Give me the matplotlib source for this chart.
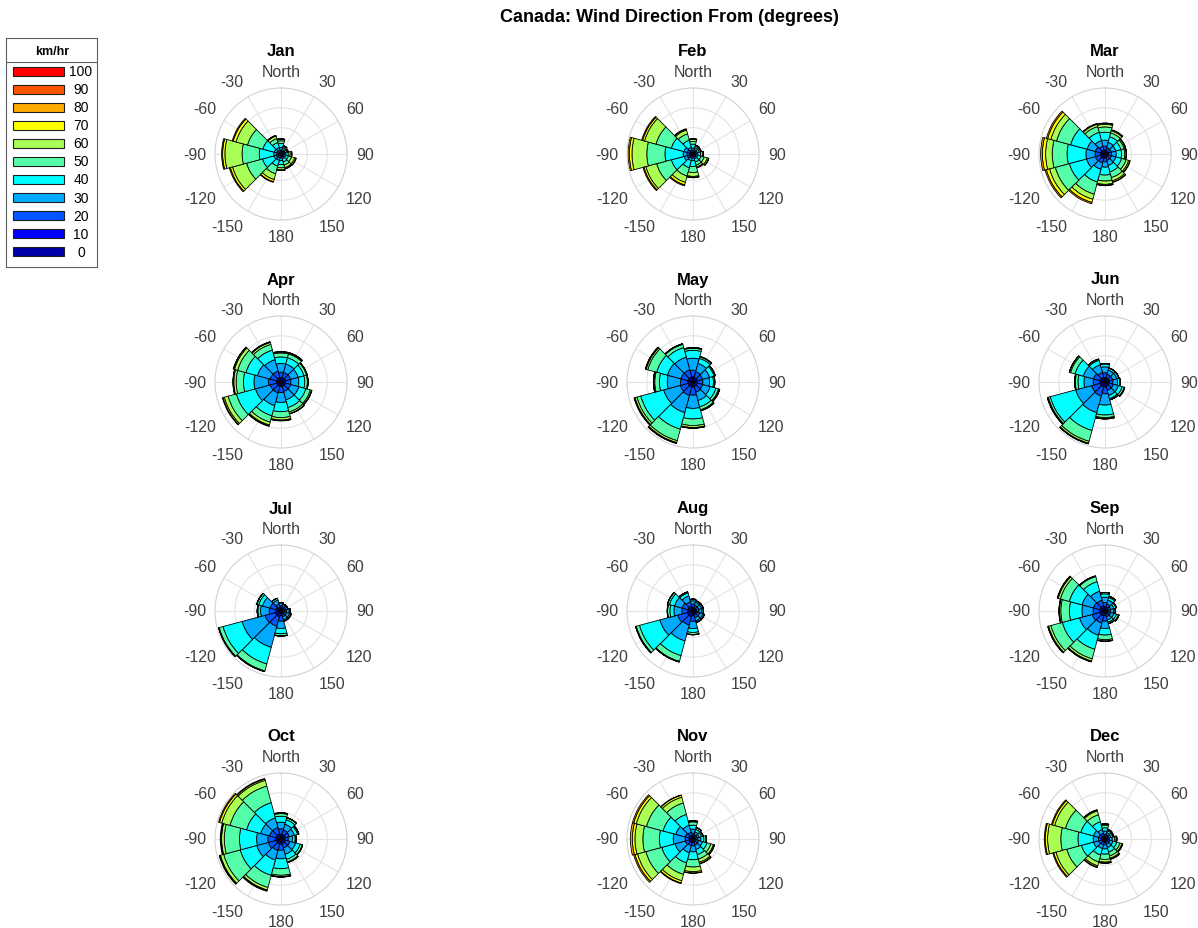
import numpy as np
import matplotlib.pyplot as plt

plt.rcParams['font.family'] = ['Liberation Sans', 'DejaVu Sans']

# wind direction sectors (degrees clockwise from north) and speed classes
directions = [0, 30, 60, 90, 120, 150, 180, 210, 240, 270, 300, 330]
dir_labels = ['North', '30', '60', '90', '120', '150', '180',
              '-150', '-120', '-90', '-60', '-30']
speed_bins = [0, 10, 20, 30, 40, 50, 60, 70, 80, 90, 100]
bin_colors = ['#0000aa', '#0000ff', '#0055ff', '#00aaff', '#00ffff', '#55ffaa',
              '#aaff55', '#ffff00', '#ffaa00', '#ff5500', '#ff0000']
months = ['Jan', 'Feb', 'Mar', 'Apr', 'May', 'Jun',
          'Jul', 'Aug', 'Sep', 'Oct', 'Nov', 'Dec']

# frequency (%) per direction (rows) and speed class 0..80 km/hr (columns)
jan = [[0.1, 0.2, 0.3, 0.4, 0.6, 0.4, 0.2, 0.1, 0.0],
       [0.1, 0.15, 0.2, 0.25, 0.3, 0.2, 0.1, 0.0, 0.0],
       [0.1, 0.15, 0.2, 0.2, 0.25, 0.15, 0.1, 0.0, 0.0],
       [0.1, 0.15, 0.2, 0.3, 0.35, 0.3, 0.2, 0.05, 0.0],
       [0.1, 0.15, 0.2, 0.3, 0.4, 0.5, 0.5, 0.2, 0.05],
       [0.1, 0.15, 0.2, 0.3, 0.5, 0.5, 0.4, 0.15, 0.05],
       [0.1, 0.2, 0.3, 0.4, 0.6, 0.5, 0.3, 0.1, 0.0],
       [0.1, 0.2, 0.3, 0.4, 0.9, 1.2, 0.9, 0.35, 0.1],
       [0.15, 0.25, 0.3, 0.4, 1.8, 2.5, 2.2, 0.35, 0.15],
       [0.15, 0.25, 0.3, 0.4, 2.2, 2.6, 2.6, 0.35, 0.15],
       [0.15, 0.2, 0.3, 0.4, 1.8, 2.4, 1.8, 0.45, 0.15],
       [0.1, 0.2, 0.3, 0.4, 0.8, 0.6, 0.4, 0.1, 0.0]]
feb = [[0.1, 0.2, 0.25, 0.35, 0.6, 0.4, 0.3, 0.1, 0.0],
       [0.1, 0.15, 0.2, 0.25, 0.3, 0.25, 0.1, 0.05, 0.0],
       [0.1, 0.15, 0.2, 0.25, 0.3, 0.2, 0.1, 0.0, 0.0],
       [0.1, 0.15, 0.2, 0.3, 0.4, 0.3, 0.15, 0.0, 0.0],
       [0.1, 0.15, 0.2, 0.3, 0.5, 0.5, 0.5, 0.2, 0.05],
       [0.1, 0.15, 0.2, 0.3, 0.5, 0.5, 0.3, 0.1, 0.05],
       [0.1, 0.2, 0.3, 0.4, 0.9, 0.9, 0.6, 0.15, 0.05],
       [0.15, 0.2, 0.3, 0.4, 1.1, 1.3, 1.0, 0.4, 0.15],
       [0.2, 0.3, 0.4, 0.5, 2.0, 2.3, 1.7, 0.3, 0.15],
       [0.2, 0.3, 0.4, 0.6, 2.75, 2.75, 2.25, 0.4, 0.2],
       [0.2, 0.3, 0.4, 0.5, 2.0, 2.4, 1.8, 0.3, 0.15],
       [0.15, 0.2, 0.3, 0.4, 1.1, 1.0, 0.6, 0.15, 0.05]]
mar = [[0.25, 0.35, 0.6, 0.9, 1.2, 0.8, 0.4, 0.15, 0.05],
       [0.2, 0.3, 0.5, 0.8, 0.9, 0.6, 0.35, 0.1, 0.05],
       [0.2, 0.3, 0.5, 0.7, 0.8, 0.5, 0.2, 0.05, 0.0],
       [0.2, 0.3, 0.5, 0.7, 0.8, 0.5, 0.2, 0.05, 0.0],
       [0.2, 0.3, 0.5, 0.7, 0.9, 0.7, 0.4, 0.2, 0.05],
       [0.2, 0.3, 0.5, 0.8, 1.0, 0.9, 0.5, 0.2, 0.05],
       [0.25, 0.35, 0.6, 0.8, 1.2, 0.9, 0.5, 0.15, 0.05],
       [0.3, 0.4, 0.7, 1.0, 2.0, 1.9, 0.8, 0.5, 0.2],
       [0.3, 0.4, 0.8, 1.4, 2.7, 2.2, 0.9, 0.5, 0.2],
       [0.3, 0.4, 0.8, 1.4, 2.85, 2.25, 1.0, 0.5, 0.25],
       [0.3, 0.4, 0.8, 1.3, 2.6, 2.2, 0.9, 0.5, 0.2],
       [0.25, 0.35, 0.6, 0.9, 1.3, 0.9, 0.35, 0.1, 0.0]]
apr = [[0.3, 0.4, 0.8, 1.3, 1.0, 0.6, 0.15, 0.05, 0.0],
       [0.3, 0.4, 0.8, 1.3, 1.0, 0.6, 0.15, 0.05, 0.0],
       [0.3, 0.4, 0.8, 1.2, 0.9, 0.4, 0.1, 0.0, 0.0],
       [0.3, 0.4, 0.8, 1.2, 0.9, 0.4, 0.1, 0.0, 0.0],
       [0.3, 0.4, 0.8, 1.3, 1.1, 0.7, 0.2, 0.05, 0.0],
       [0.3, 0.4, 0.8, 1.3, 1.2, 0.7, 0.25, 0.05, 0.0],
       [0.3, 0.4, 0.9, 1.5, 1.4, 0.9, 0.35, 0.1, 0.05],
       [0.3, 0.4, 1.0, 2.0, 1.6, 1.0, 0.45, 0.15, 0.05],
       [0.3, 0.4, 1.0, 2.3, 3.0, 1.3, 0.6, 0.2, 0.1],
       [0.3, 0.4, 1.2, 2.2, 1.6, 1.1, 0.35, 0.1, 0.05],
       [0.3, 0.4, 1.0, 2.0, 1.8, 1.3, 0.5, 0.15, 0.05],
       [0.3, 0.4, 1.0, 1.8, 1.5, 0.9, 0.3, 0.1, 0.0]]
may = [[0.3, 0.5, 1.0, 1.8, 1.2, 0.3, 0.1, 0.0, 0.0],
       [0.3, 0.4, 0.9, 1.3, 0.8, 0.25, 0.05, 0.0, 0.0],
       [0.3, 0.4, 0.8, 1.1, 0.7, 0.2, 0.0, 0.0, 0.0],
       [0.3, 0.4, 0.8, 1.0, 0.6, 0.2, 0.0, 0.0, 0.0],
       [0.3, 0.4, 0.8, 1.2, 0.9, 0.4, 0.15, 0.05, 0.0],
       [0.3, 0.4, 0.9, 1.3, 1.0, 0.45, 0.15, 0.0, 0.0],
       [0.3, 0.5, 1.2, 2.0, 1.6, 1.0, 0.3, 0.1, 0.0],
       [0.3, 0.5, 1.3, 2.7, 2.6, 1.8, 0.3, 0.1, 0.05],
       [0.3, 0.5, 1.2, 2.6, 3.6, 0.6, 0.3, 0.1, 0.05],
       [0.3, 0.5, 1.1, 2.0, 1.2, 0.7, 0.15, 0.05, 0.0],
       [0.3, 0.5, 1.1, 2.1, 1.7, 1.4, 0.25, 0.1, 0.05],
       [0.3, 0.5, 1.1, 2.0, 1.5, 0.5, 0.1, 0.0, 0.0]]
jun = [[0.3, 0.4, 0.7, 0.9, 0.4, 0.1, 0.0, 0.0, 0.0],
       [0.3, 0.35, 0.55, 0.65, 0.3, 0.05, 0.0, 0.0, 0.0],
       [0.3, 0.35, 0.55, 0.65, 0.3, 0.05, 0.0, 0.0, 0.0],
       [0.3, 0.35, 0.55, 0.7, 0.35, 0.05, 0.0, 0.0, 0.0],
       [0.3, 0.4, 0.6, 0.8, 0.6, 0.3, 0.1, 0.0, 0.0],
       [0.3, 0.4, 0.6, 0.8, 0.5, 0.2, 0.0, 0.0, 0.0],
       [0.3, 0.5, 1.0, 1.7, 1.5, 0.4, 0.15, 0.05, 0.0],
       [0.3, 0.5, 1.4, 2.6, 2.8, 1.7, 0.3, 0.1, 0.0],
       [0.3, 0.5, 1.3, 2.5, 4.0, 0.3, 0.1, 0.05, 0.0],
       [0.3, 0.5, 1.0, 1.4, 0.9, 0.4, 0.1, 0.0, 0.0],
       [0.3, 0.5, 1.0, 1.6, 1.3, 0.7, 0.2, 0.0, 0.0],
       [0.3, 0.4, 0.8, 1.2, 0.7, 0.2, 0.0, 0.0, 0.0]]
jul = [[0.2, 0.3, 0.35, 0.35, 0.1, 0.0, 0.0, 0.0, 0.0],
       [0.2, 0.25, 0.3, 0.3, 0.05, 0.0, 0.0, 0.0, 0.0],
       [0.2, 0.25, 0.3, 0.3, 0.05, 0.0, 0.0, 0.0, 0.0],
       [0.2, 0.3, 0.35, 0.4, 0.15, 0.0, 0.0, 0.0, 0.0],
       [0.2, 0.3, 0.4, 0.45, 0.2, 0.05, 0.0, 0.0, 0.0],
       [0.2, 0.3, 0.4, 0.45, 0.2, 0.05, 0.0, 0.0, 0.0],
       [0.3, 0.45, 0.8, 1.1, 0.8, 0.3, 0.05, 0.0, 0.0],
       [0.3, 0.6, 1.5, 3.3, 2.6, 1.1, 0.1, 0.0, 0.0],
       [0.3, 0.6, 1.6, 3.6, 3.0, 0.6, 0.1, 0.0, 0.0],
       [0.3, 0.5, 1.0, 1.3, 0.4, 0.1, 0.0, 0.0, 0.0],
       [0.3, 0.5, 0.9, 1.2, 0.6, 0.3, 0.0, 0.0, 0.0],
       [0.25, 0.35, 0.5, 0.6, 0.3, 0.0, 0.0, 0.0, 0.0]]
aug = [[0.25, 0.35, 0.45, 0.5, 0.2, 0.05, 0.0, 0.0, 0.0],
       [0.2, 0.3, 0.4, 0.45, 0.2, 0.05, 0.0, 0.0, 0.0],
       [0.2, 0.3, 0.4, 0.45, 0.2, 0.05, 0.0, 0.0, 0.0],
       [0.2, 0.3, 0.4, 0.45, 0.2, 0.05, 0.0, 0.0, 0.0],
       [0.25, 0.35, 0.45, 0.5, 0.2, 0.05, 0.0, 0.0, 0.0],
       [0.25, 0.35, 0.45, 0.5, 0.2, 0.05, 0.0, 0.0, 0.0],
       [0.3, 0.45, 0.8, 1.1, 0.6, 0.3, 0.05, 0.0, 0.0],
       [0.3, 0.6, 1.3, 2.5, 2.3, 0.9, 0.1, 0.0, 0.0],
       [0.3, 0.6, 1.5, 2.8, 3.2, 0.5, 0.1, 0.0, 0.0],
       [0.3, 0.5, 0.9, 1.2, 0.6, 0.35, 0.05, 0.0, 0.0],
       [0.3, 0.5, 0.9, 1.2, 0.8, 0.3, 0.0, 0.0, 0.0],
       [0.3, 0.45, 0.7, 0.9, 0.5, 0.15, 0.0, 0.0, 0.0]]
sep = [[0.3, 0.4, 0.6, 0.8, 0.5, 0.2, 0.0, 0.0, 0.0],
       [0.25, 0.35, 0.5, 0.6, 0.4, 0.2, 0.0, 0.0, 0.0],
       [0.2, 0.3, 0.4, 0.5, 0.3, 0.1, 0.0, 0.0, 0.0],
       [0.2, 0.3, 0.35, 0.45, 0.2, 0.1, 0.0, 0.0, 0.0],
       [0.2, 0.3, 0.4, 0.5, 0.4, 0.3, 0.1, 0.0, 0.0],
       [0.2, 0.3, 0.4, 0.5, 0.35, 0.2, 0.05, 0.0, 0.0],
       [0.3, 0.45, 0.8, 1.1, 1.0, 0.7, 0.2, 0.05, 0.0],
       [0.3, 0.5, 1.1, 1.9, 2.2, 1.5, 0.35, 0.1, 0.05],
       [0.3, 0.5, 1.2, 2.0, 2.7, 1.8, 0.35, 0.1, 0.05],
       [0.3, 0.5, 1.0, 1.7, 1.9, 1.3, 0.2, 0.05, 0.05],
       [0.3, 0.5, 1.0, 1.8, 2.0, 1.4, 0.35, 0.1, 0.05],
       [0.3, 0.5, 0.9, 1.4, 1.5, 0.8, 0.1, 0.0, 0.0]]
oct_ = [[0.3, 0.45, 0.8, 1.0, 0.9, 0.4, 0.1, 0.0, 0.05],
        [0.3, 0.4, 0.7, 0.9, 0.7, 0.3, 0.05, 0.0, 0.0],
        [0.3, 0.4, 0.6, 0.8, 0.5, 0.2, 0.0, 0.0, 0.0],
        [0.25, 0.35, 0.5, 0.65, 0.4, 0.15, 0.0, 0.0, 0.0],
        [0.3, 0.4, 0.7, 0.9, 0.7, 0.35, 0.05, 0.0, 0.0],
        [0.3, 0.4, 0.7, 1.0, 0.8, 0.4, 0.1, 0.0, 0.0],
        [0.3, 0.5, 0.9, 1.3, 1.5, 1.0, 0.2, 0.05, 0.05],
        [0.3, 0.5, 1.0, 1.5, 2.4, 1.9, 0.4, 0.1, 0.1],
        [0.3, 0.5, 1.2, 1.8, 2.6, 2.6, 0.5, 0.1, 0.1],
        [0.3, 0.5, 1.2, 1.7, 2.6, 2.3, 0.4, 0.1, 0.1],
        [0.3, 0.5, 1.0, 1.4, 2.2, 2.6, 1.3, 0.35, 0.15],
        [0.3, 0.5, 1.0, 1.5, 2.4, 2.6, 0.9, 0.2, 0.1]]
nov = [[0.2, 0.3, 0.4, 0.6, 0.6, 0.5, 0.15, 0.0, 0.05],
       [0.15, 0.25, 0.3, 0.4, 0.4, 0.25, 0.05, 0.0, 0.0],
       [0.15, 0.2, 0.3, 0.35, 0.35, 0.2, 0.05, 0.0, 0.0],
       [0.15, 0.25, 0.35, 0.45, 0.45, 0.3, 0.1, 0.0, 0.0],
       [0.2, 0.3, 0.4, 0.6, 0.7, 0.6, 0.4, 0.15, 0.05],
       [0.2, 0.3, 0.45, 0.7, 0.8, 0.7, 0.5, 0.2, 0.05],
       [0.2, 0.35, 0.5, 0.9, 1.2, 1.1, 0.7, 0.2, 0.05],
       [0.2, 0.35, 0.5, 1.1, 1.6, 1.8, 1.0, 0.35, 0.1],
       [0.2, 0.4, 0.6, 1.6, 2.1, 2.5, 1.3, 0.4, 0.2],
       [0.2, 0.4, 0.6, 1.8, 2.1, 2.5, 1.2, 0.4, 0.3],
       [0.2, 0.4, 0.6, 1.5, 2.0, 2.6, 1.6, 0.4, 0.2],
       [0.2, 0.35, 0.5, 1.1, 1.7, 1.8, 0.9, 0.3, 0.05]]
dec = [[0.15, 0.25, 0.35, 0.45, 0.5, 0.4, 0.15, 0.05, 0.0],
       [0.15, 0.2, 0.3, 0.35, 0.3, 0.15, 0.05, 0.0, 0.0],
       [0.15, 0.2, 0.25, 0.3, 0.3, 0.15, 0.05, 0.0, 0.0],
       [0.15, 0.25, 0.3, 0.4, 0.35, 0.25, 0.1, 0.0, 0.0],
       [0.15, 0.25, 0.35, 0.5, 0.6, 0.5, 0.3, 0.1, 0.05],
       [0.15, 0.25, 0.4, 0.55, 0.7, 0.6, 0.35, 0.15, 0.05],
       [0.2, 0.3, 0.4, 0.6, 0.8, 0.8, 0.4, 0.15, 0.05],
       [0.2, 0.3, 0.4, 0.6, 1.0, 1.1, 0.6, 0.2, 0.1],
       [0.2, 0.3, 0.5, 0.8, 1.9, 2.3, 1.7, 0.35, 0.15],
       [0.2, 0.3, 0.5, 0.8, 2.3, 2.6, 2.0, 0.35, 0.15],
       [0.2, 0.3, 0.5, 0.8, 2.0, 2.4, 1.7, 0.35, 0.15],
       [0.2, 0.3, 0.4, 0.6, 1.2, 1.1, 0.6, 0.15, 0.05]]

month_data = [jan, feb, mar, apr, may, jun, jul, aug, sep, oct_, nov, dec]

W, H = 1198, 929
R = 66  # rose radius in pixels
RMAX = 10
col_x = [281, 693, 1105]
row_y = [155, 383, 612, 840]

fig = plt.figure(figsize=(W / 100, H / 100), dpi=100)

fig.text(669 / W, 1 - 18 / H, 'Canada: Wind Direction From (degrees)',
         ha='center', va='center', fontsize=13, fontweight='bold')

theta = np.deg2rad(directions)
width = np.deg2rad(30)
r_lab = RMAX * 75 / R


def label_align(deg):
    # anchor the direction labels on the side facing the rose
    if deg in (0, 180):
        ha = 'center'
    elif deg < 180:
        ha = 'left'
    else:
        ha = 'right'
    if deg in (90, 270):
        va = 'center'
    elif 90 < deg < 270:
        va = 'top'
    else:
        va = 'bottom'
    return ha, va


for i, (name, data) in enumerate(zip(months, month_data)):
    cx = col_x[i % 3]
    cy = row_y[i // 3]
    ax = fig.add_axes([(cx - R) / W, (H - cy - R) / H, 2 * R / W, 2 * R / H],
                      projection='polar')
    ax.set_theta_zero_location('N')
    ax.set_theta_direction(-1)
    ax.set_axisbelow(True)

    vals = np.array(data)
    bottom = np.zeros(len(directions))
    for k in range(vals.shape[1]):
        ax.bar(theta, vals[:, k], width=width, bottom=bottom,
               color=bin_colors[k], edgecolor='black', linewidth=0.6,
               align='center')
        bottom += vals[:, k]

    ax.set_ylim(0, RMAX)
    ax.set_yticks([4, 7])
    ax.set_yticklabels([])
    ax.set_xticks(theta)
    ax.set_xticklabels([])
    ax.grid(True, color='#e3e3e3', linewidth=0.8)
    ax.spines['polar'].set_color('#d2d2d2')
    ax.spines['polar'].set_linewidth(0.8)

    for deg, t, lab in zip(directions, theta, dir_labels):
        ha, va = label_align(deg)
        ax.text(t, r_lab, lab, ha=ha, va=va, fontsize=11.5, color='#404040',
                clip_on=False)

    fig.text(cx / W, 1 - (cy - 103) / H, name, ha='center', va='center',
             fontsize=12, fontweight='bold')

# speed legend drawn in pixel units
lg = fig.add_axes([6 / W, 1 - 268 / H, 91 / W, 229 / H])
lg.set_xlim(0, 91)
lg.set_ylim(229, 0)
lg.set_xticks([])
lg.set_yticks([])
for s in lg.spines.values():
    s.set_color('#606060')
    s.set_linewidth(0.8)
lg.axhline(24, color='#606060', linewidth=0.8)
lg.text(46, 13, 'km/hr', ha='center', va='center', fontsize=9, fontweight='bold')
for j, (spd, c) in enumerate(zip(speed_bins[::-1], bin_colors[::-1])):
    yc = 33.2 + 18.05 * j
    lg.add_patch(plt.Rectangle((7, yc - 4.5), 51, 9, facecolor=c,
                               edgecolor='#202020', linewidth=0.8))
    lg.text(75, yc, str(spd), ha='center', va='center', fontsize=10)

fig.savefig('out.png', dpi=100)
